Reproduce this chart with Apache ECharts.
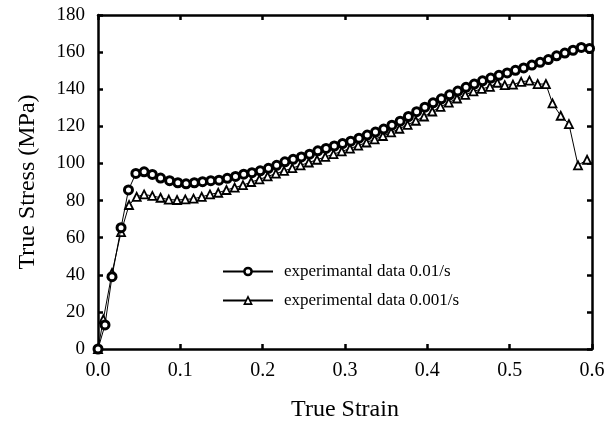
<!DOCTYPE html>
<html>
<head>
<meta charset="utf-8">
<script src="https://cdn.jsdelivr.net/npm/echarts@6/dist/echarts.min.js"></script>
<style>html,body{margin:0;padding:0;background:#fff}#c{width:614px;height:430px}</style>
</head>
<body>
<div id="c"></div>
<script>
const xTicks = [0.0, 0.1, 0.2, 0.3, 0.4, 0.5, 0.6];
const yTicks = [0, 20, 40, 60, 80, 100, 120, 140, 160, 180];

const seriesNames = ["experimantal data 0.01/s", "experimental data 0.001/s"];

const strain001 = [0, 0.0085, 0.017, 0.028, 0.037, 0.046, 0.056, 0.066, 0.076, 0.087, 0.097,
  0.107, 0.117, 0.127, 0.137, 0.147, 0.157, 0.167, 0.177, 0.187, 0.197,
  0.207, 0.217, 0.227, 0.237, 0.247, 0.257, 0.267, 0.277, 0.287, 0.297,
  0.307, 0.317, 0.327, 0.337, 0.347, 0.357, 0.367, 0.377, 0.387, 0.397,
  0.407, 0.417, 0.427, 0.437, 0.447, 0.457, 0.467, 0.477, 0.487, 0.497,
  0.507, 0.517, 0.527, 0.537, 0.547, 0.557, 0.567, 0.577, 0.587, 0.597];
const stress001 = [0, 13, 39, 65.4, 85.7, 94.6, 95.5, 94.1, 92.1, 90.7, 89.6,
  89, 89.6, 90.2, 90.7, 91, 92, 93, 94.2, 95, 96,
  97.4, 99, 100.9, 102.2, 103.5, 105, 106.8, 108.1, 109.4, 110.7,
  112, 113.6, 115.3, 116.9, 118.5, 120.6, 122.8, 125.3, 127.9, 130.3,
  132.7, 134.8, 137, 139, 141, 142.8, 144.5, 146, 147.5, 148.8,
  150.2, 151.5, 153, 154.5, 156, 158, 159.5, 161, 162.5, 162];

const strain0001 = [0, 0.0065, 0.017, 0.028, 0.0377, 0.047, 0.056, 0.066, 0.076, 0.086, 0.096,
  0.106, 0.116, 0.126, 0.136, 0.146, 0.156, 0.166, 0.176, 0.186, 0.196,
  0.206, 0.216, 0.226, 0.236, 0.246, 0.256, 0.266, 0.276, 0.286, 0.296,
  0.306, 0.316, 0.326, 0.336, 0.346, 0.356, 0.366, 0.376, 0.386, 0.396,
  0.406, 0.416, 0.426, 0.436, 0.446, 0.456, 0.466, 0.476,
  0.485, 0.494, 0.504, 0.514, 0.524, 0.534, 0.544, 0.552, 0.562, 0.572, 0.583, 0.594];
const stress0001 = [0, 16, 41, 63, 77.6, 82, 83.3, 82.5, 81.5, 80.5, 80.3,
  80.6, 81, 82, 83.3, 84.2, 85.7, 87, 88.3, 90, 91.4,
  93, 94.5, 96, 97.5, 99, 100.5, 102, 103.5, 105, 106.5,
  108, 109.6, 111.3, 113, 114.8, 116.7, 118.7, 120.8, 123, 125.3,
  128, 130.5, 132.8, 135, 137, 138.8, 140.2, 141.3,
  143.5, 142.2, 142.5, 144, 144.6, 142.8, 142.8, 132.4, 125.7, 121.2, 99, 102];

const font = '"Liberation Serif", "Times New Roman", serif';
const pairs = (xs, ys) => xs.map((x, i) => [x, ys[i]]);

const xBase = {
  type: 'value', min: xTicks[0], max: xTicks[xTicks.length - 1], interval: 0.1,
  splitLine: { show: false },
  axisLine: { show: true, onZero: false, lineStyle: { color: '#000', width: 2.5 } },
  axisTick: { show: true, inside: true, length: 5, lineStyle: { color: '#000', width: 2.5 } }
};
const yBase = {
  type: 'value', min: yTicks[0], max: yTicks[yTicks.length - 1], interval: 20,
  splitLine: { show: false },
  axisLine: { show: true, onZero: false, lineStyle: { color: '#000', width: 2.5 } },
  axisTick: { show: true, inside: true, length: 5, lineStyle: { color: '#000', width: 2.5 } }
};

const chart = echarts.init(document.getElementById('c'), null, { renderer: 'canvas' });
chart.setOption({
  backgroundColor: '#fff',
  animation: false,
  grid: { left: 98, right: 22, top: 15, bottom: 81, containLabel: false },
  legend: {
    left: 222, top: 263, orient: 'vertical', itemGap: 12,
    itemWidth: 50, itemHeight: 9,
    padding: 0,
    textStyle: { fontFamily: font, fontSize: 17, color: '#000', padding: [0, 0, 0, 6] },
    data: [
      { name: seriesNames[0], itemStyle: { borderWidth: 2.5 } },
      { name: seriesNames[1], itemStyle: { borderWidth: 1.6 } }
    ]
  },
  xAxis: [
    Object.assign({}, xBase, {
      position: 'bottom',
      name: 'True Strain', nameLocation: 'middle', nameGap: 49,
      nameTextStyle: { fontFamily: font, fontSize: 24, color: '#000' },
      axisLabel: { show: true, margin: 12, fontFamily: font, fontSize: 20, color: '#000',
        formatter: v => v.toFixed(1) }
    }),
    Object.assign({}, xBase, { position: 'top', axisLabel: { show: false } })
  ],
  yAxis: [
    Object.assign({}, yBase, {
      position: 'left',
      name: 'True Stress (MPa)', nameLocation: 'middle', nameGap: 58,
      nameTextStyle: { fontFamily: font, fontSize: 24, color: '#000' },
      axisLabel: { show: true, margin: 13, fontFamily: font, fontSize: 19, color: '#000' }
    }),
    Object.assign({}, yBase, { position: 'right', axisLabel: { show: false } })
  ],
  series: [
    {
      name: seriesNames[0], type: 'line', xAxisIndex: 0, yAxisIndex: 0,
      data: pairs(strain001, stress001),
      symbol: 'circle', symbolSize: 8,
      lineStyle: { color: '#000', width: 1 },
      itemStyle: { color: '#fff', borderColor: '#000', borderWidth: 3 },
      z: 3
    },
    {
      name: seriesNames[1], type: 'line', xAxisIndex: 0, yAxisIndex: 0,
      data: pairs(strain0001, stress0001),
      symbol: 'triangle', symbolSize: 8,
      lineStyle: { color: '#000', width: 1 },
      itemStyle: { color: '#fff', borderColor: '#000', borderWidth: 1.8 },
      z: 2
    }
  ]
});
</script>
</body>
</html>
